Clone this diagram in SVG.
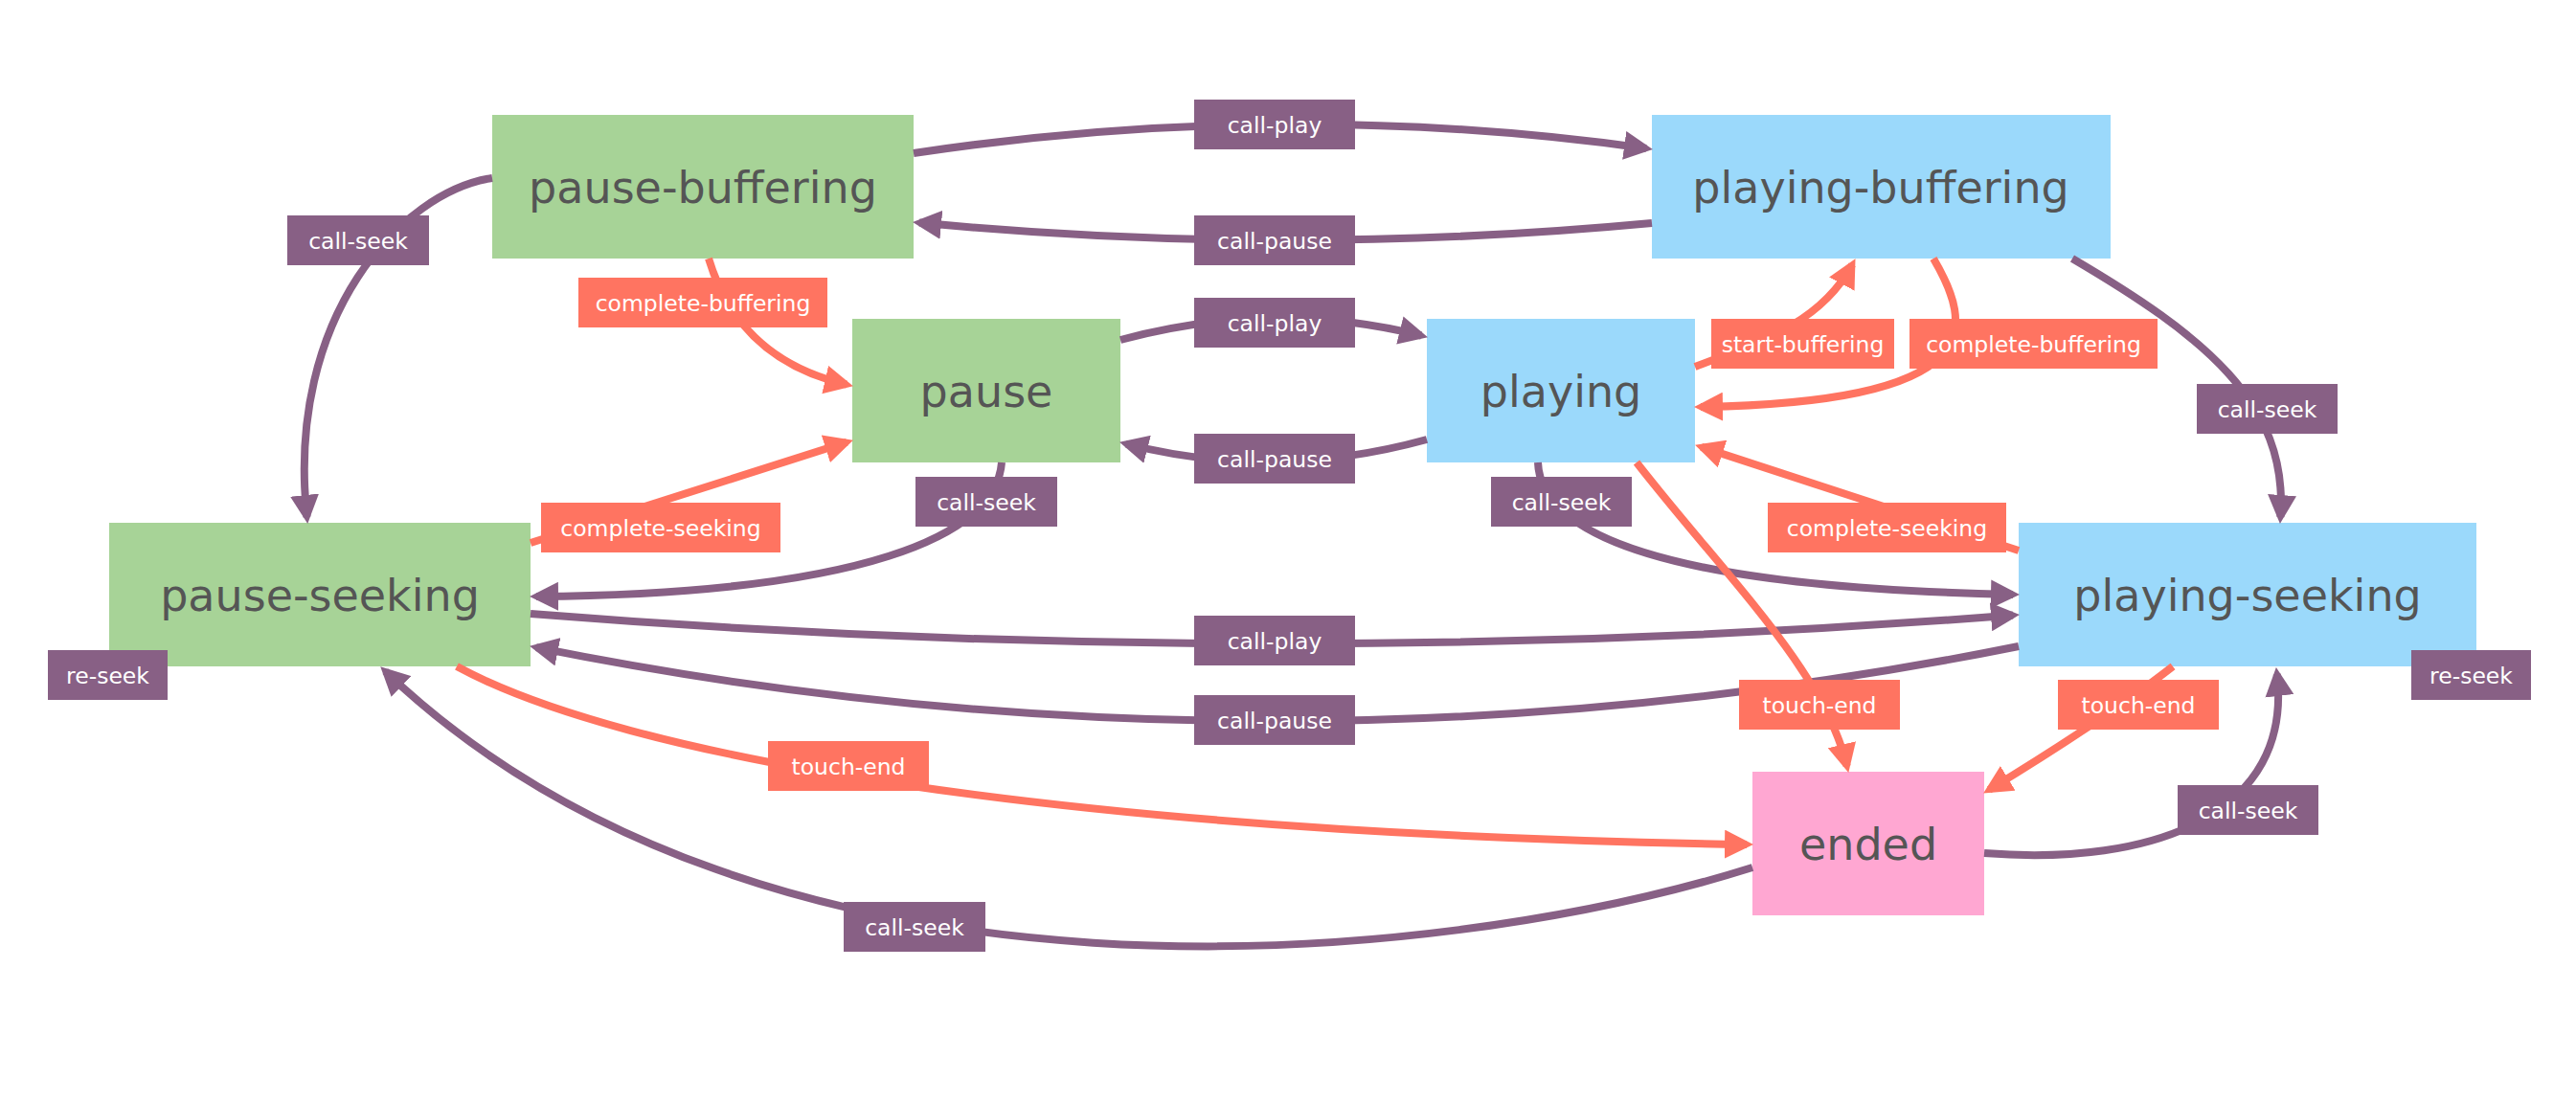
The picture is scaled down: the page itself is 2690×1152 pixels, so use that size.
<svg xmlns="http://www.w3.org/2000/svg" width="2690" height="1152" viewBox="0 0 2690 1152">
<style>
.bg{fill:#ffffff}
.node rect{stroke:none}
.pause rect{fill:#A7D397}
.play rect{fill:#9BD9FB}
.end rect{fill:#FFA7D2}
.node text{font-family:"DejaVu Sans",sans-serif;font-size:46px;fill:#555555;text-anchor:middle}
.e{fill:none;stroke-width:8}
.ep{stroke:#886085}
.es{stroke:#FF7461}
.lp rect{fill:#886085}
.ls rect{fill:#FF7461}
.lbl text{font-family:"DejaVu Sans",sans-serif;font-size:23.5px;fill:#ffffff;text-anchor:middle}
</style>
<defs>
<marker id="ap" markerUnits="userSpaceOnUse" markerWidth="30" markerHeight="30" refX="23" refY="15" orient="auto"><path d="M0,0 L30,15 L0,30 Z" fill="#886085"/></marker>
<marker id="as" markerUnits="userSpaceOnUse" markerWidth="30" markerHeight="30" refX="23" refY="15" orient="auto"><path d="M0,0 L30,15 L0,30 Z" fill="#FF7461"/></marker>
</defs>
<rect class="bg" x="0" y="0" width="2690" height="1152"/>

<g id="node-pause-buffering" class="node pause"><rect x="514" y="120" width="440" height="150"/><text x="734" y="212">pause-buffering</text></g>
<g id="node-playing-buffering" class="node play"><rect x="1725" y="120" width="479" height="150"/><text x="1964" y="212">playing-buffering</text></g>
<g id="node-pause" class="node pause"><rect x="890" y="333" width="280" height="150"/><text x="1030" y="425">pause</text></g>
<g id="node-playing" class="node play"><rect x="1490" y="333" width="280" height="150"/><text x="1630" y="425">playing</text></g>
<g id="node-pause-seeking" class="node pause"><rect x="114" y="546" width="440" height="150"/><text x="334" y="638">pause-seeking</text></g>
<g id="node-playing-seeking" class="node play"><rect x="2108" y="546" width="478" height="150"/><text x="2347" y="638">playing-seeking</text></g>
<g id="node-ended" class="node end"><rect x="1830" y="806" width="242" height="150"/><text x="1951" y="898">ended</text></g>

<g id="connectors">
<path class="e ep" marker-end="url(#ap)" d="M954,160 Q1340,102 1719,155"/>
<path class="e ep" marker-end="url(#ap)" d="M1725,233 Q1340,269 960,232.6"/>
<path class="e ep" marker-end="url(#ap)" d="M514,186 C420,200 298,330 320.5,540"/>
<path class="e ep" marker-end="url(#ap)" d="M1170,355 Q1330,312 1484.2,350.5"/>
<path class="e ep" marker-end="url(#ap)" d="M1490,459 Q1330,503 1175.8,463.5"/>
<path class="e ep" marker-end="url(#ap)" d="M2164,270 C2300,350 2390,420 2381.4,540"/>
<path class="e ep" marker-end="url(#ap)" d="M1046,483 C1040,560 900,620 560,623"/>
<path class="e ep" marker-end="url(#ap)" d="M554,641 Q1330,703 2102,642.5"/>
<path class="e ep" marker-end="url(#ap)" d="M2108,675 Q1331,831 559.9,676.2"/>
<path class="e ep" marker-end="url(#ap)" d="M1606,483 C1610,580 1820,615 2102,620.9"/>
<path class="e ep" marker-end="url(#ap)" d="M2072,891 C2250,905 2395,850 2377.7,704"/>
<path class="e ep" marker-end="url(#ap)" d="M1830,906 C1500,1010 800,1080 402.3,701.1"/>
<path class="e es" marker-end="url(#as)" d="M740,270 C755,320 790,380 884.1,401.7"/>
<path class="e es" marker-end="url(#as)" d="M1770,383 C1830,360 1900,340 1934.2,276.3"/>
<path class="e es" marker-end="url(#as)" d="M2019,270 C2060,340 2080,420 1776,425"/>
<path class="e es" marker-end="url(#as)" d="M554,567 L884.3,461.8"/>
<path class="e es" marker-end="url(#as)" d="M2108,575 L1776.7,466.9"/>
<path class="e es" marker-end="url(#as)" d="M1709,483 C1800,600 1905,700 1928.7,800.1"/>
<path class="e es" marker-end="url(#as)" d="M2269,696 Q2200,750 2077.1,824.9"/>
<path class="e es" marker-end="url(#as)" d="M477,696 C650,790 1100,870 1824,882"/>
</g>

<g id="edge-labels" class="lbl">
<g class="lp"><rect x="1247" y="104" width="168" height="52"/><text x="1331" y="139">call-play</text></g>
<g class="lp"><rect x="1247" y="225" width="168" height="52"/><text x="1331" y="260">call-pause</text></g>
<g class="lp"><rect x="300" y="225" width="148" height="52"/><text x="374" y="260">call-seek</text></g>
<g class="ls"><rect x="604" y="290" width="260" height="52"/><text x="734" y="325">complete-buffering</text></g>
<g class="lp"><rect x="1247" y="311" width="168" height="52"/><text x="1331" y="346">call-play</text></g>
<g class="lp"><rect x="1247" y="453" width="168" height="52"/><text x="1331" y="488">call-pause</text></g>
<g class="ls"><rect x="1787" y="333" width="191" height="52"/><text x="1882.5" y="368">start-buffering</text></g>
<g class="ls"><rect x="1994" y="333" width="259" height="52"/><text x="2123.5" y="368">complete-buffering</text></g>
<g class="lp"><rect x="2294" y="401" width="147" height="52"/><text x="2367.5" y="436">call-seek</text></g>
<g class="ls"><rect x="1846" y="525" width="249" height="52"/><text x="1970.5" y="560">complete-seeking</text></g>
<g class="ls"><rect x="565" y="525" width="250" height="52"/><text x="690" y="560">complete-seeking</text></g>
<g class="lp"><rect x="956" y="498" width="148" height="52"/><text x="1030" y="533">call-seek</text></g>
<g class="lp"><rect x="1557" y="498" width="147" height="52"/><text x="1630.5" y="533">call-seek</text></g>
<g class="lp"><rect x="1247" y="643" width="168" height="52"/><text x="1331" y="678">call-play</text></g>
<g class="lp"><rect x="1247" y="726" width="168" height="52"/><text x="1331" y="761">call-pause</text></g>
<g class="lp"><rect x="50" y="679" width="125" height="52"/><text x="112.5" y="714">re-seek</text></g>
<g class="lp"><rect x="2518" y="679" width="125" height="52"/><text x="2580.5" y="714">re-seek</text></g>
<g class="ls"><rect x="1816" y="710" width="168" height="52"/><text x="1900" y="745">touch-end</text></g>
<g class="ls"><rect x="2149" y="710" width="168" height="52"/><text x="2233" y="745">touch-end</text></g>
<g class="ls"><rect x="802" y="774" width="168" height="52"/><text x="886" y="809">touch-end</text></g>
<g class="lp"><rect x="2274" y="820" width="147" height="52"/><text x="2347.5" y="855">call-seek</text></g>
<g class="lp"><rect x="881" y="942" width="148" height="52"/><text x="955" y="977">call-seek</text></g>
</g>
</svg>
